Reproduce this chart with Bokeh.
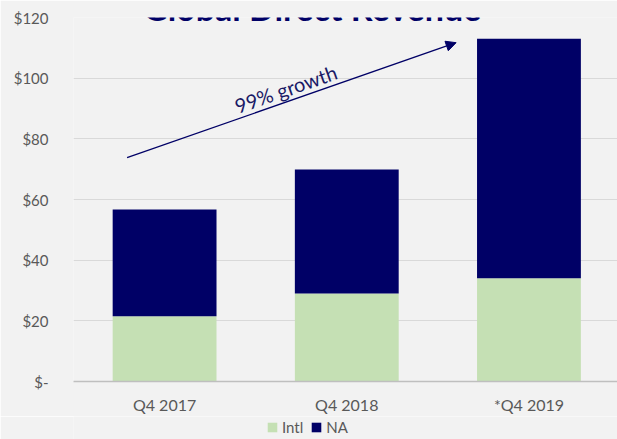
from bokeh.plotting import figure
from bokeh.layouts import column
from bokeh.models import Range1d, FixedTicker, Arrow, NormalHead, Label, Legend, LegendItem, ColumnDataSource
from bokeh.embed import file_html
from bokeh.resources import INLINE
import math

categories = ["Q4 2017", "Q4 2018", "*Q4 2019"]
intl = [21.5, 29.0, 34.0]
na = [35.2, 40.9, 79.0]
y_ticks = [0, 20, 40, 60, 80, 100, 120]
y_tick_labels = ["$-", "$20", "$40", "$60", "$80", "$100", "$120"]
series = ["Intl", "NA"]
title_text = "Global Direct Revenue"
growth_text = "99% growth"
arrow_start = (0.294, 73.8)
arrow_end = (2.10, 111.7)

FONT = "Lato"
NAVY = "#000066"
GREEN = "#c5e0b4"
TEXT = "#595959"
BG = "#f2f2f2"

xs = [i + 0.5 for i in range(len(categories))]
src = ColumnDataSource(dict(x=xs, Intl=intl, NA=na))

p = figure(width=617, height=416, output_backend="svg", toolbar_location=None,
           x_range=Range1d(0, 2.986), y_range=Range1d(0, 120),
           min_border_left=73, min_border_right=0, min_border_top=17, min_border_bottom=34)
p.background_fill_color = BG
p.border_fill_color = BG
p.outline_line_color = None

r = p.vbar_stack(series, x="x", width=0.57, color=[GREEN, NAVY], source=src, line_color=None)

# axes
p.xaxis.ticker = FixedTicker(ticks=xs)
p.xaxis.major_label_overrides = {x: c for x, c in zip(xs, categories)}
p.xaxis.major_tick_line_color = None
p.xaxis.minor_tick_line_color = None
p.xaxis.axis_line_color = "#bfbfbf"
p.xaxis.axis_line_width = 1.5
p.xaxis.major_label_text_font = FONT
p.xaxis.major_label_text_font_size = "16px"
p.xaxis.major_label_text_color = TEXT
p.xaxis.major_label_standoff = 7

p.yaxis.ticker = FixedTicker(ticks=y_ticks)
p.yaxis.major_label_overrides = {t: l for t, l in zip(y_ticks, y_tick_labels)}
p.yaxis.major_tick_line_color = None
p.yaxis.minor_tick_line_color = None
p.yaxis.axis_line_color = None
p.yaxis.major_label_text_font = FONT
p.yaxis.major_label_text_font_size = "15px"
p.yaxis.major_label_text_color = TEXT
p.yaxis.major_label_standoff = 19

p.xgrid.grid_line_color = None
p.ygrid.grid_line_color = "#d9d9d9"
p.ygrid.grid_line_width = 1

# growth arrow
p.add_layout(Arrow(end=NormalHead(size=10, fill_color=NAVY, line_color=NAVY),
                   x_start=arrow_start[0], y_start=arrow_start[1],
                   x_end=arrow_end[0], y_end=arrow_end[1],
                   line_color=NAVY, line_width=1.3))
ang = math.atan2((arrow_end[1] - arrow_start[1]) * 3.04, (arrow_end[0] - arrow_start[0]) * 182)
p.add_layout(Label(x=1.165, y=96.5, text=growth_text, angle=ang, text_align="center",
                   text_baseline="middle", text_font=FONT, text_font_size="20px",
                   text_color="#1a1a66"))

# title (cut off at the top, as in the reference)
p.add_layout(Label(x=1.31, y=123.3, text=title_text, text_align="center", text_baseline="alphabetic",
                   text_font=FONT, text_font_size="34px", text_font_style="bold",
                   text_color=NAVY))

# legend strip below the chart
lg = figure(width=617, height=23, output_backend="svg", toolbar_location=None,
            x_range=Range1d(0, 1), y_range=Range1d(0, 1),
            min_border=0, x_axis_type=None, y_axis_type=None)
lg.background_fill_color = BG
lg.border_fill_color = BG
lg.outline_line_color = None
lg.xgrid.grid_line_color = None
lg.ygrid.grid_line_color = None
keys = lg.vbar_stack(series, x="x", width=0.57, color=[GREEN, NAVY], source=src, line_color=None)
for k in keys:
    k.visible = False
legend = Legend(items=[LegendItem(label=s, renderers=[k]) for s, k in zip(series, keys)],
                orientation="horizontal", location=(193, 3),
                background_fill_alpha=0, border_line_color=None,
                inactive_fill_alpha=0,
                label_text_font=FONT, label_text_font_size="15px", label_text_color=TEXT,
                label_height=14,
                glyph_width=12, glyph_height=12, spacing=7, label_standoff=4,
                padding=2, margin=0)
lg.add_layout(legend, "center")

open("out.html", "w").write(file_html(column(p, lg, spacing=0), INLINE))
